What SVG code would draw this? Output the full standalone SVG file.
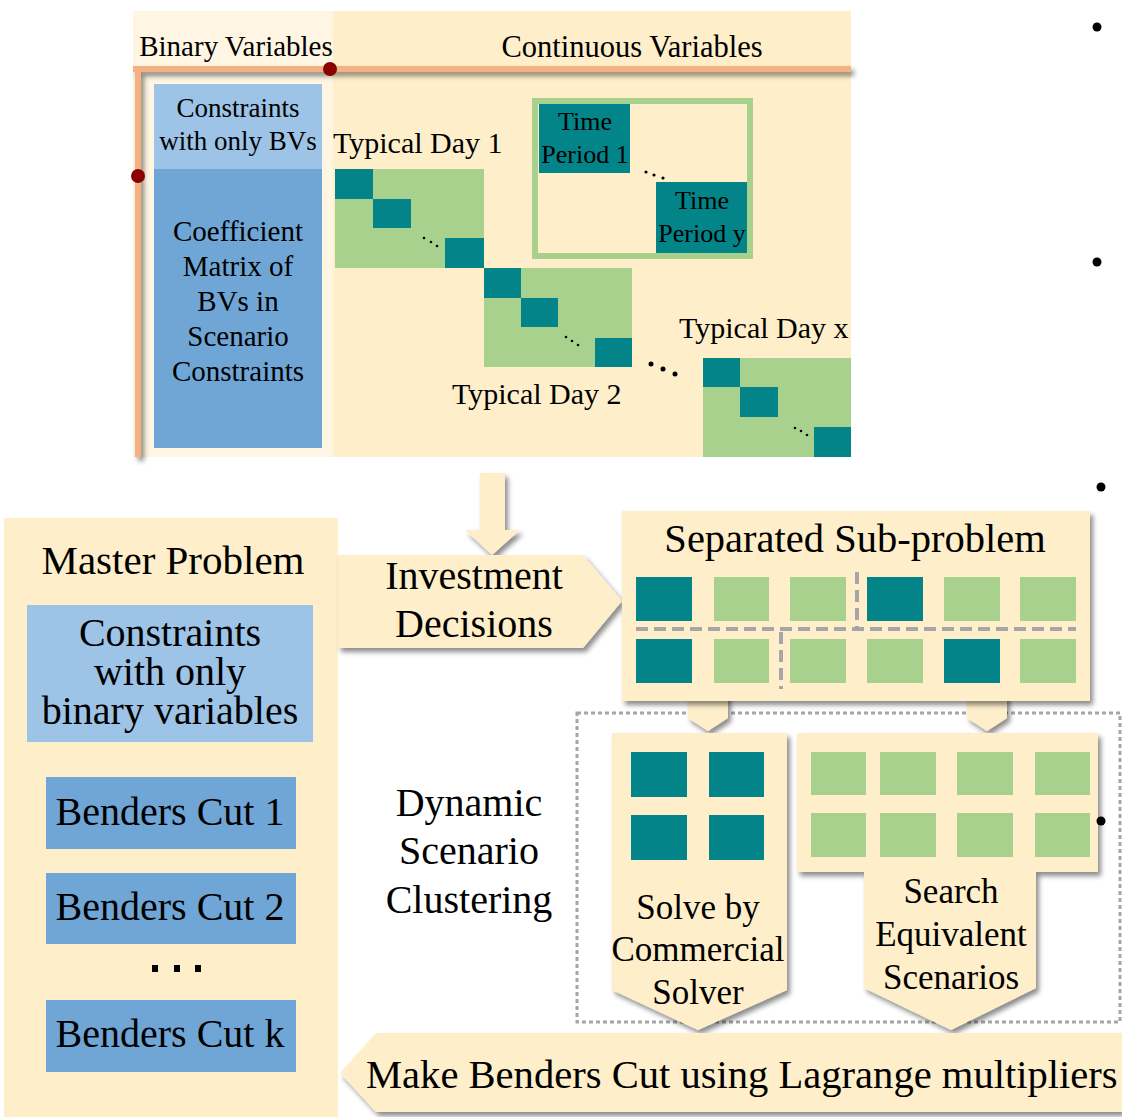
<svg xmlns="http://www.w3.org/2000/svg" width="1122" height="1117" viewBox="0 0 1122 1117" font-family="'Liberation Serif', 'Times New Roman', serif">
<defs>
<filter id="sh" x="-10%" y="-10%" width="130%" height="130%">
<feDropShadow dx="3" dy="4" stdDeviation="2.5" flood-color="#000" flood-opacity="0.45"/>
</filter>
<style>
text{font-family:'Liberation Serif','Times New Roman',serif;fill:#000}
.cream{fill:#FEEFCA}
.teal{fill:#028489}
.green{fill:#A9D18E}
.lb{fill:#9DC3E6}
.db{fill:#6FA6D6}
.t26{font-size:26px;text-anchor:middle}
.t28{font-size:28px;text-anchor:middle}
.t30{font-size:30px}
.t35{font-size:35px;text-anchor:middle}
.t40{font-size:40px;text-anchor:middle}
.dash{stroke:#A6A6A6;stroke-width:4;stroke-dasharray:12 6;fill:none}
.dot{fill:#000}
</style>
</defs>
<rect width="1122" height="1117" fill="#fff"/>

<!-- top panel -->
<g id="matrix-panel">
<rect x="333" y="11" width="518" height="446" class="cream"/>
<rect x="133" y="11" width="200" height="446" fill="#FEF5E3"/>
<text x="236" y="56" class="t28" style="font-size:29px">Binary Variables</text>
<text x="632" y="57" class="t28" style="font-size:30.5px">Continuous Variables</text>
<g filter="url(#sh)">
<rect x="133" y="66" width="718" height="6" fill="#F4B183"/>
<rect x="135" y="66" width="6" height="391" fill="#F4B183"/>
</g>
<circle cx="330" cy="69" r="7" fill="#8B0000"/>
<circle cx="138" cy="176" r="7" fill="#8B0000"/>
</g>

<g id="bv-constraints">
<rect x="154" y="84" width="168" height="85" class="lb"/>
<text x="238" y="117" class="t26" style="font-size:27px">Constraints</text>
<text x="238" y="150" class="t26" style="font-size:27px">with only BVs</text>
</g>
<g id="coef-matrix">
<rect x="154" y="169" width="168" height="279" class="db"/>
<text x="238" y="241" class="t28" style="font-size:29px">Coefficient</text>
<text x="238" y="276" class="t28" style="font-size:29px">Matrix of</text>
<text x="238" y="311" class="t28" style="font-size:29px">BVs in</text>
<text x="238" y="346" class="t28" style="font-size:29px">Scenario</text>
<text x="238" y="381" class="t28" style="font-size:29px">Constraints</text>
</g>

<g id="day1">
<text x="333" y="153" class="t30">Typical Day 1</text>
<rect x="335" y="169" width="149" height="99" class="green"/>
<rect x="335" y="169" width="38" height="30" class="teal"/>
<rect x="373" y="199" width="38" height="29" class="teal"/>
<rect x="445" y="238" width="39" height="30" class="teal"/>
<circle cx="424" cy="238" r="1.3" class="dot"/>
<circle cx="431" cy="242" r="1.3" class="dot"/>
<circle cx="437" cy="246" r="1.3" class="dot"/>
</g>

<g id="time-periods">
<rect x="535" y="101" width="215" height="155" fill="#FEEFCA" stroke="#A9D18E" stroke-width="6"/>
<rect x="539" y="104" width="91" height="69" class="teal"/>
<text x="585" y="130" class="t26">Time</text>
<text x="585" y="163" class="t26">Period 1</text>
<rect x="656" y="182" width="91" height="71" class="teal"/>
<text x="702" y="209" class="t26">Time</text>
<text x="702" y="242" class="t26">Period y</text>
<circle cx="646" cy="172" r="1.6" class="dot"/>
<circle cx="654" cy="175" r="1.6" class="dot"/>
<circle cx="663" cy="178" r="1.6" class="dot"/>
</g>

<g id="day2">
<rect x="484" y="268" width="148" height="99" class="green"/>
<rect x="484" y="268" width="37" height="30" class="teal"/>
<rect x="521" y="298" width="37" height="29" class="teal"/>
<rect x="595" y="338" width="37" height="29" class="teal"/>
<circle cx="566" cy="337" r="1.3" class="dot"/>
<circle cx="572" cy="341" r="1.3" class="dot"/>
<circle cx="578" cy="345" r="1.3" class="dot"/>
<text x="452" y="404" class="t30">Typical Day 2</text>
</g>

<g id="dayx">
<text x="679" y="338" class="t30">Typical Day x</text>
<rect x="703" y="358" width="148" height="99" class="green"/>
<rect x="703" y="358" width="37" height="29" class="teal"/>
<rect x="740" y="387" width="38" height="30" class="teal"/>
<rect x="814" y="427" width="37" height="30" class="teal"/>
<circle cx="795" cy="428" r="1.3" class="dot"/>
<circle cx="801" cy="431" r="1.3" class="dot"/>
<circle cx="807" cy="435" r="1.3" class="dot"/>
</g>
<g id="day-ellipsis">
<circle cx="651" cy="364" r="2.5" class="dot"/>
<circle cx="663" cy="369" r="2.5" class="dot"/>
<circle cx="675" cy="374" r="2.5" class="dot"/>
</g>

<!-- master problem -->
<g id="master-problem">
<rect x="4" y="518" width="334" height="599" class="cream"/>
<text x="173" y="574" class="t40" style="font-size:41px">Master Problem</text>
</g>
<g id="mp-constraints">
<rect x="27" y="605" width="286" height="137" class="lb"/>
<text x="170" y="646" class="t40">Constraints</text>
<text x="170" y="685" class="t40">with only</text>
<text x="170" y="724" class="t40">binary variables</text>
</g>
<g id="cut1">
<rect x="46" y="777" width="250" height="72" class="db"/>
<text x="170" y="825" class="t40">Benders Cut 1</text>
</g>
<g id="cut2">
<rect x="46" y="873" width="250" height="71" class="db"/>
<text x="170" y="920" class="t40">Benders Cut 2</text>
</g>
<g id="cut-ellipsis">
<rect x="152" y="965" width="6" height="7" class="dot"/>
<rect x="174" y="965" width="6" height="7" class="dot"/>
<rect x="195" y="965" width="6" height="7" class="dot"/>
</g>
<g id="cutk">
<rect x="46" y="1000" width="250" height="72" class="db"/>
<text x="170" y="1047" class="t40">Benders Cut k</text>
</g>

<!-- connectors -->
<g id="connectors">
<polygon points="480,473 505,473 505,530 520,530 492,555 465,530 480,530" class="cream" filter="url(#sh)"/>
<rect x="577" y="713" width="543" height="309" fill="none" stroke="#A6A6A6" stroke-width="3" stroke-dasharray="4 3"/>
<polygon points="688,690 728,690 728,718 708,731 688,718" class="cream" filter="url(#sh)"/>
<polygon points="967,690 1007,690 1007,718 987,731 967,718" class="cream" filter="url(#sh)"/>
</g>

<g id="investment-decisions">
<polygon points="338,555 583,555 622,601 583,648 338,648" class="cream" filter="url(#sh)"/>
<text x="474" y="589" class="t40">Investment</text>
<text x="474" y="637" class="t40">Decisions</text>
</g>

<g id="subproblem">
<rect x="622" y="511" width="468" height="190" class="cream" filter="url(#sh)"/>
<text x="855" y="552" class="t40" style="font-size:40.5px">Separated Sub-problem</text>
<rect x="636" y="577" width="56" height="44" class="teal"/>
<rect x="714" y="577" width="55" height="44" class="green"/>
<rect x="790" y="577" width="56" height="44" class="green"/>
<rect x="867" y="577" width="56" height="44" class="teal"/>
<rect x="944" y="577" width="56" height="44" class="green"/>
<rect x="1020" y="577" width="56" height="44" class="green"/>
<rect x="636" y="639" width="56" height="44" class="teal"/>
<rect x="714" y="639" width="55" height="44" class="green"/>
<rect x="790" y="639" width="56" height="44" class="green"/>
<rect x="867" y="639" width="56" height="44" class="green"/>
<rect x="944" y="639" width="56" height="44" class="teal"/>
<rect x="1020" y="639" width="56" height="44" class="green"/>
<line x1="636" y1="629" x2="1076" y2="629" class="dash"/>
<line x1="857" y1="572" x2="857" y2="627" class="dash"/>
<line x1="781" y1="632" x2="781" y2="689" class="dash"/>
</g>

<g id="clustering-label">
<text x="469" y="816" class="t40">Dynamic</text>
<text x="469" y="864" class="t40">Scenario</text>
<text x="469" y="913" class="t40">Clustering</text>
</g>

<g id="solve">
<polygon points="612,733 787,733 787,990 698,1030 612,990" class="cream" filter="url(#sh)"/>
<rect x="631" y="752" width="56" height="45" class="teal"/>
<rect x="709" y="752" width="55" height="45" class="teal"/>
<rect x="631" y="815" width="56" height="45" class="teal"/>
<rect x="709" y="815" width="55" height="45" class="teal"/>
<text x="698" y="919" class="t35">Solve by</text>
<text x="698" y="961" class="t35">Commercial</text>
<text x="698" y="1004" class="t35">Solver</text>
</g>

<g id="search">
<polygon points="797,733 1098,733 1098,872 1036,872 1036,988 951,1030 864,988 864,872 797,872" class="cream" filter="url(#sh)"/>
<rect x="811" y="752" width="55" height="43" class="green"/>
<rect x="880" y="752" width="56" height="43" class="green"/>
<rect x="957" y="752" width="56" height="43" class="green"/>
<rect x="1035" y="752" width="55" height="43" class="green"/>
<rect x="811" y="813" width="55" height="44" class="green"/>
<rect x="880" y="813" width="56" height="44" class="green"/>
<rect x="957" y="813" width="56" height="44" class="green"/>
<rect x="1035" y="813" width="55" height="44" class="green"/>
<text x="951" y="903" class="t35">Search</text>
<text x="951" y="946" class="t35">Equivalent</text>
<text x="951" y="989" class="t35">Scenarios</text>
</g>

<g id="make-cut">
<polygon points="376,1033 1122,1033 1122,1112 376,1112 340,1073" class="cream" filter="url(#sh)"/>
<text x="366" y="1088" style="font-size:40.6px">Make Benders Cut using Lagrange multipliers</text>
</g>

<g id="bullets">
<circle cx="1097" cy="27" r="4.5" class="dot"/>
<circle cx="1097" cy="262" r="4.5" class="dot"/>
<circle cx="1101" cy="487" r="4.5" class="dot"/>
<circle cx="1101" cy="821" r="4.5" class="dot"/>
</g>
</svg>
